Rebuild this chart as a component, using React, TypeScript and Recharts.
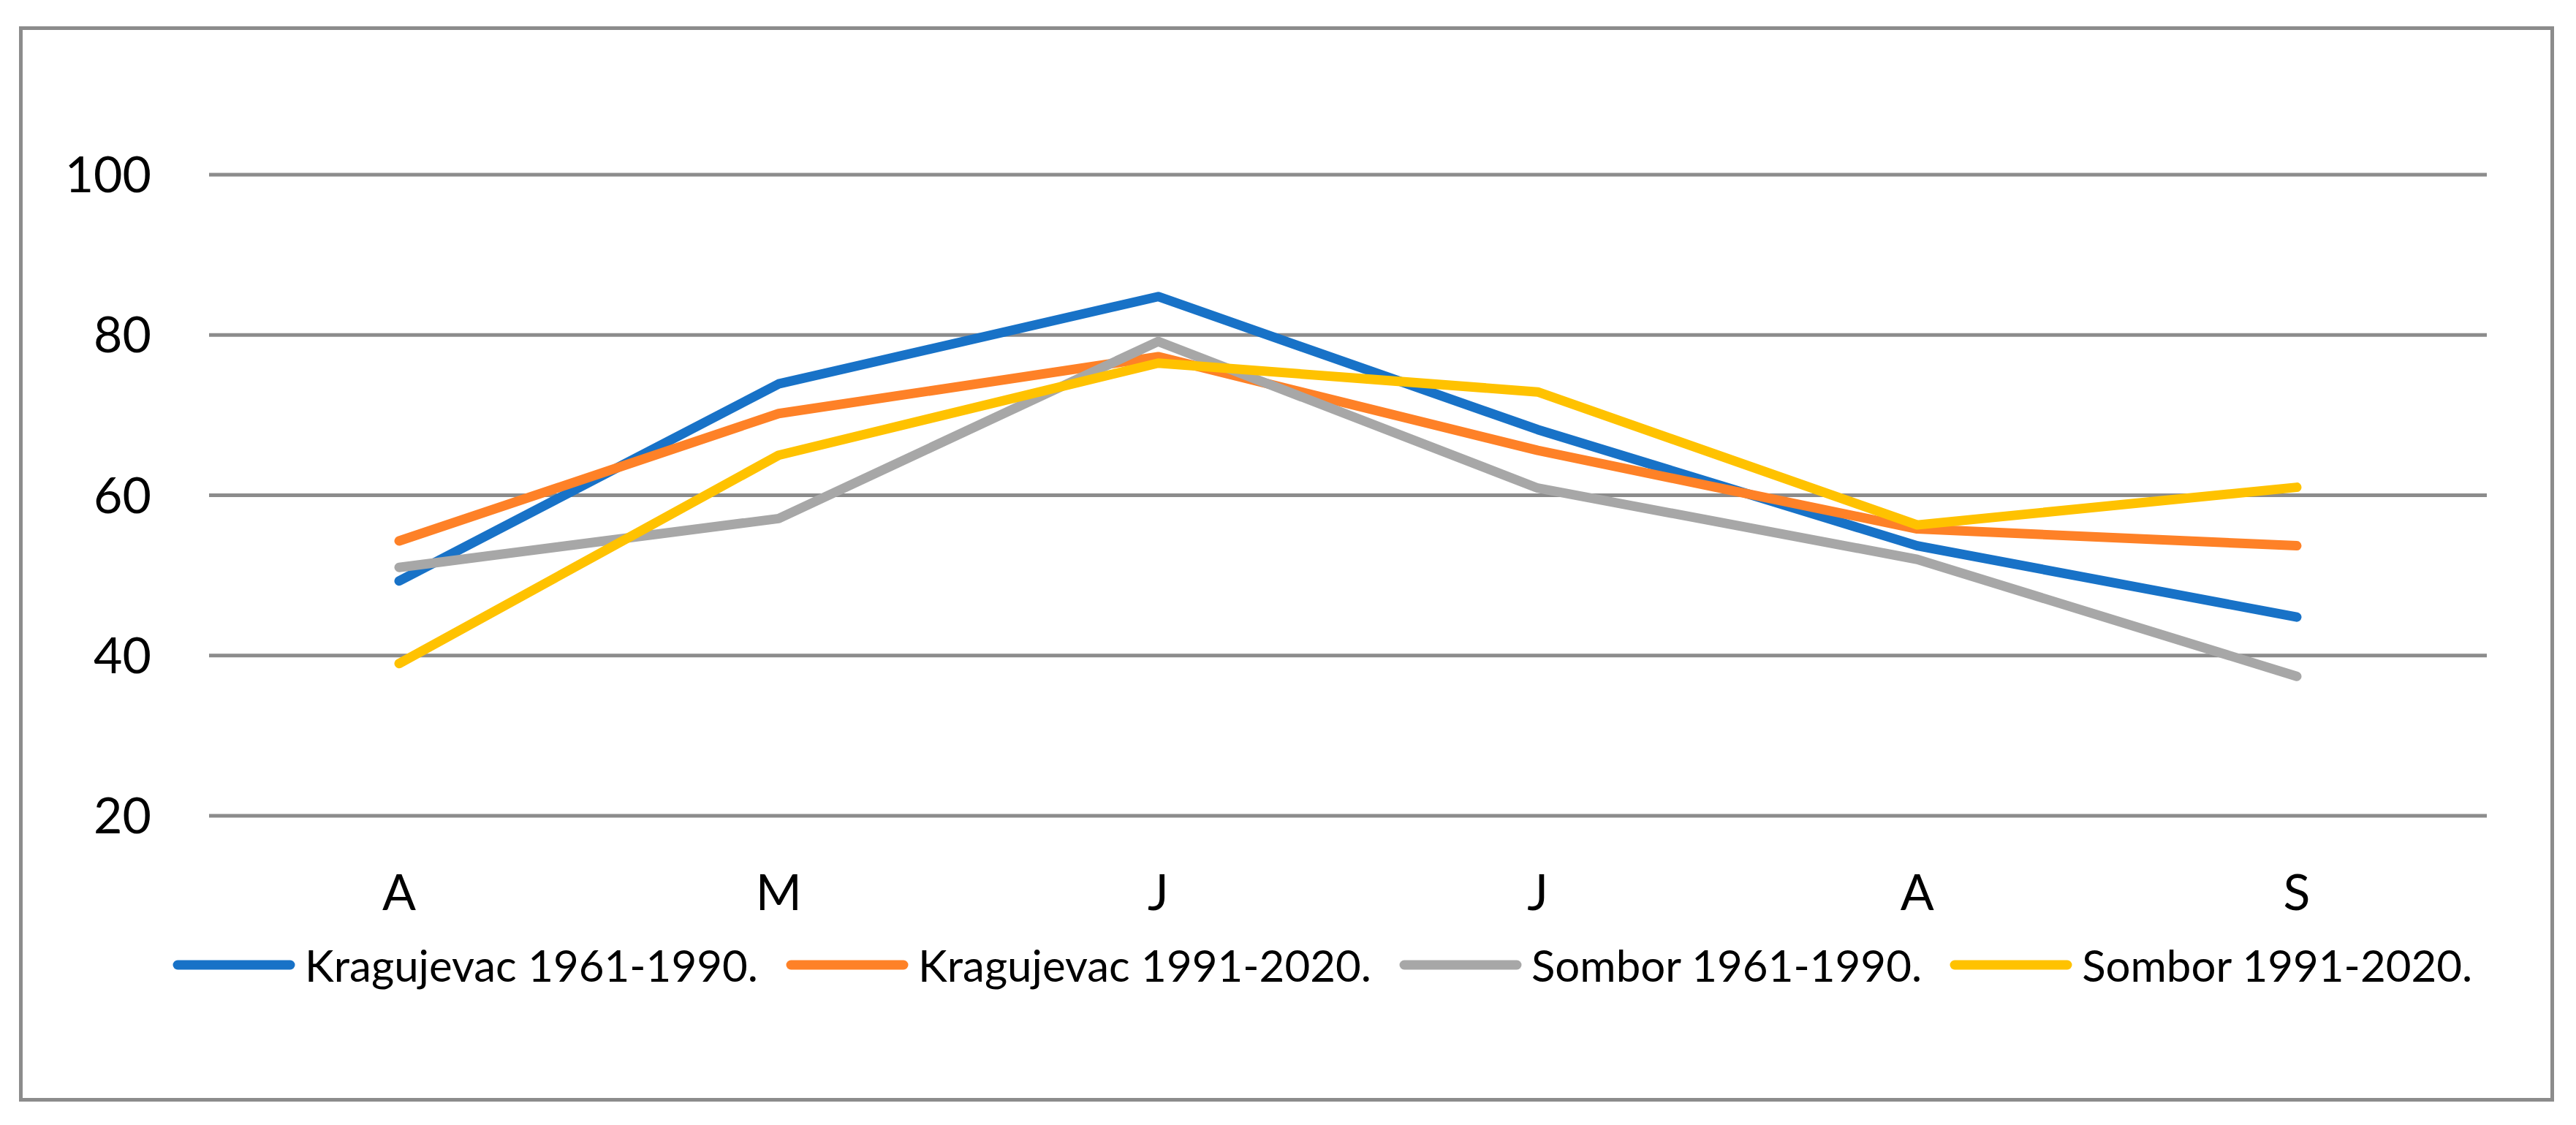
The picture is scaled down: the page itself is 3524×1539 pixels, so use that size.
import { LineChart, Line, XAxis, YAxis, CartesianGrid, Legend } from 'recharts'

const months = ['A', 'M', 'J', 'J', 'A', 'S']
const kragujevac6190 = [49.3, 73.9, 84.8, 68.2, 53.7, 44.8]
const kragujevac9120 = [54.3, 70.2, 77.3, 65.6, 55.8, 53.7]
const sombor6190 = [51.0, 57.1, 79.2, 60.9, 52.0, 37.4]
const sombor9120 = [39.0, 65.0, 76.5, 72.9, 56.3, 61.0]
const yTicks = [20, 40, 60, 80, 100]

const series = [
  { key: 'k6190', name: 'Kragujevac 1961-1990.', color: '#1872C7', values: kragujevac6190 },
  { key: 'k9120', name: 'Kragujevac 1991-2020.', color: '#FE8127', values: kragujevac9120 },
  { key: 's6190', name: 'Sombor 1961-1990.', color: '#A7A7A7', values: sombor6190 },
  { key: 's9120', name: 'Sombor 1991-2020.', color: '#FFC200', values: sombor9120 },
]

const data = months.map((m, i) => {
  const row: Record<string, string | number> = { month: m }
  series.forEach((s) => {
    row[s.key] = s.values[i]
  })
  return row
})

const FONT = 'Lato, "Open Sans", sans-serif'

function LegendContent() {
  return (
    <div style={{ display: 'flex', alignItems: 'center', height: 60, fontFamily: FONT, fontSize: 60, color: '#000', whiteSpace: 'nowrap' }}>
      {series.map((s) => (
        <div key={s.key} style={{ display: 'flex', alignItems: 'center', marginRight: 38 }}>
          <svg width={168} height={14} style={{ marginRight: 13 }}>
            <line x1={7} y1={7} x2={161} y2={7} stroke={s.color} strokeWidth={13} strokeLinecap="round" />
          </svg>
          <span>{s.name}</span>
        </div>
      ))}
    </div>
  )
}

export default function App() {
  return (
    <div style={{ position: 'absolute', left: 0, top: 0, width: 3524, height: 1539, background: '#fff' }}>
      <div
        style={{
          position: 'absolute',
          left: 26,
          top: 36,
          width: 3468,
          height: 1471,
          border: '5px solid #8c8c8c',
          boxSizing: 'border-box',
        }}
      />
      <div style={{ position: 'absolute', left: 0, top: 0 }}>
        <LineChart width={3524} height={1539} data={data} margin={{ top: 129.5, right: 122, bottom: 273, left: 86 }}>
          <CartesianGrid vertical={false} horizontalValues={yTicks} stroke="#8c8c8c" strokeWidth={5} />
          <XAxis
            dataKey="month"
            height={150}
            axisLine={false}
            tickLine={false}
            tickSize={0}
            tickMargin={81}
            padding={{ left: 260, right: 260 }}
            tick={{ fontSize: 68, fill: '#000', fontFamily: FONT }}
          />
          <YAxis
            width={200}
            domain={[20, 110]}
            ticks={yTicks}
            axisLine={false}
            tickLine={false}
            tickSize={0}
            tickMargin={79}
            tick={{ fontSize: 68, fill: '#000', fontFamily: FONT }}
          />
          <Legend
            layout="horizontal"
            verticalAlign="middle"
            align="center"
            content={() => <LegendContent />}
            wrapperStyle={{ left: 236, top: 1290, width: 3250, height: 60 }}
          />
          {series.map((s) => (
            <Line
              key={s.key}
              type="linear"
              dataKey={s.key}
              name={s.name}
              stroke={s.color}
              strokeWidth={13}
              strokeLinecap="round"
              strokeLinejoin="round"
              dot={false}
              activeDot={false}
              isAnimationActive={false}
            />
          ))}
        </LineChart>
      </div>
    </div>
  )
}
